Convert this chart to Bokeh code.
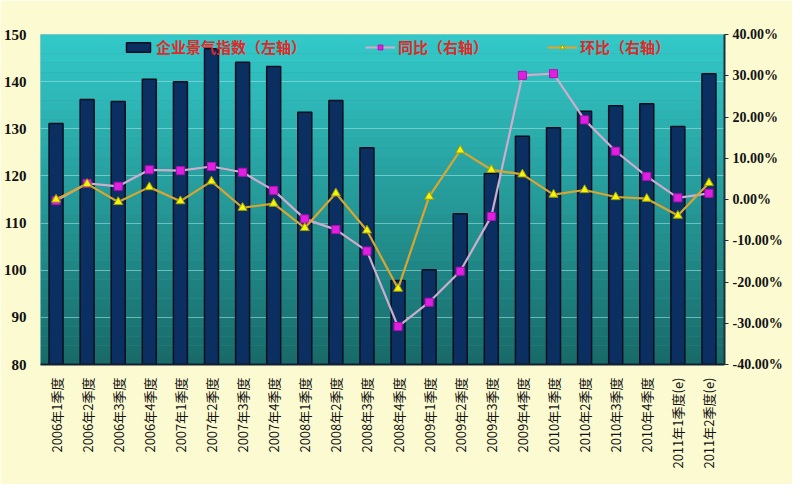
from bokeh.plotting import figure
from bokeh.models import (Range1d, LinearAxis, SingleIntervalTicker, PrintfTickFormatter,
                          Legend, LegendItem, BoxAnnotation, FactorRange)
from bokeh.embed import file_html
from bokeh.resources import INLINE
import math

categories = [
    "2006年1季度", "2006年2季度", "2006年3季度", "2006年4季度",
    "2007年1季度", "2007年2季度", "2007年3季度", "2007年4季度",
    "2008年1季度", "2008年2季度", "2008年3季度", "2008年4季度",
    "2009年1季度", "2009年2季度", "2009年3季度", "2009年4季度",
    "2010年1季度", "2010年2季度", "2010年3季度", "2010年4季度",
    "2011年1季度(e)", "2011年2季度(e)",
]
index_values = [131.1, 136.2, 135.8, 140.5, 140.0, 147.0, 144.1, 143.2,
                133.5, 136.0, 126.0, 97.8, 100.1, 112.0, 120.5, 128.4,
                130.2, 133.7, 134.9, 135.3, 130.5, 141.7]
yoy_pct = [-0.3, 3.9, 3.2, 7.2, 7.0, 8.0, 6.6, 2.2, -4.7, -7.3, -12.5, -30.8,
           -24.9, -17.4, -4.1, 30.1, 30.5, 19.3, 11.7, 5.6, 0.4, 1.5]
qoq_pct = [0.0, 3.8, -0.6, 3.0, -0.4, 4.4, -2.0, -1.0, -6.9, 1.5, -7.5, -21.6,
           0.7, 11.9, 7.2, 6.1, 1.2, 2.3, 0.6, 0.2, -3.9, 4.0]

left_ticks_range = (80, 150)
right_ticks_range = (-40, 40)

CREAM = "#fcfad0"

p = figure(x_range=FactorRange(*categories), y_range=Range1d(*left_ticks_range),
           frame_width=684, frame_height=330,
           min_border_left=32, min_border_right=68, min_border_top=34, min_border_bottom=120,
           output_backend="svg", toolbar_location=None,
           background_fill_color="#2a9e9e", border_fill_color=CREAM, outline_line_color=None)
p.x_range.range_padding = 0.0

# vertical gradient of the plot area (decoration)
n = 35
top_c = (52, 202, 202)
bot_c = (24, 106, 104)
for i in range(n):
    t = (i + 0.5) / n
    c = tuple(int(bot_c[k] + (top_c[k] - bot_c[k]) * t) for k in range(3))
    b = BoxAnnotation(bottom=80 + i * 2, top=82 + i * 2, fill_color="#%02x%02x%02x" % c,
                      fill_alpha=1.0, line_alpha=0, level="image")
    p.add_layout(b)

p.extra_y_ranges = {"pct": Range1d(*right_ticks_range)}

bars = p.vbar(x=categories, top=index_values, bottom=80, width=0.45,
              fill_color="#0c2f62", line_color="#050f20", line_width=1.5)

l1 = p.line(categories, yoy_pct, y_range_name="pct", line_color="#cdaccd", line_width=2.2)
s1 = p.scatter(categories, yoy_pct, y_range_name="pct", marker="square", size=8,
               fill_color="#e020e0", line_color="#b010b0")
l2 = p.line(categories, qoq_pct, y_range_name="pct", line_color="#d8a630", line_width=2.2)
s2 = p.scatter(categories, qoq_pct, y_range_name="pct", marker="triangle", size=9,
               fill_color="#f4f410", line_color="#a0a000")

# left axis
ya = p.yaxis[0]
ya.ticker = SingleIntervalTicker(interval=10)
ya.axis_line_color = None
ya.major_tick_line_color = None
ya.minor_tick_line_color = None
ya.major_label_text_font = "Liberation Serif"
ya.major_label_text_font_style = "bold"
ya.major_label_text_font_size = "15px"
ya.major_label_text_color = "#111111"
ya.major_label_standoff = 8

# right axis
ra = LinearAxis(y_range_name="pct", ticker=SingleIntervalTicker(interval=10),
                formatter=PrintfTickFormatter(format="%.2f%%"))
ra.axis_line_color = "#1a3040"
ra.axis_line_width = 2
ra.major_tick_line_color = "#1a3040"
ra.major_tick_out = 4
ra.major_tick_in = 0
ra.minor_tick_line_color = None
ra.major_label_text_font = "Liberation Serif"
ra.major_label_text_font_style = "bold"
ra.major_label_text_font_size = "14px"
ra.major_label_text_color = "#111111"
ra.major_label_standoff = 4
p.add_layout(ra, "right")

# bottom axis
xa = p.xaxis[0]
xa.major_label_orientation = math.pi / 2
xa.major_label_text_font = "Noto Sans CJK SC"
xa.major_label_text_font_size = "13px"
xa.major_label_text_color = "#111111"
xa.axis_line_color = "#102030"
xa.axis_line_width = 2
xa.major_tick_line_color = None
xa.minor_tick_line_color = None
xa.major_label_standoff = 7

p.xgrid.grid_line_color = None
p.ygrid.grid_line_color = "#a8eaea"
p.ygrid.grid_line_alpha = 0.55
p.ygrid.grid_line_width = 1

legend = Legend(items=[
    LegendItem(label="企业景气指数（左轴）", renderers=[bars]),
    LegendItem(label="同比（右轴）", renderers=[l1, s1]),
    LegendItem(label="环比（右轴）", renderers=[l2, s2]),
], orientation="horizontal", location=(83, 307),
    background_fill_alpha=0, border_line_alpha=0,
    label_text_color="#e02828", label_text_font="Noto Sans CJK SC",
    label_text_font_style="bold", label_text_font_size="15px",
    glyph_width=30, glyph_height=12, spacing=59, label_standoff=3,
    padding=0, margin=0)
p.add_layout(legend)

html = file_html(p, INLINE).replace("<body>", '<body style="background-color:%s;">' % CREAM, 1)
open("out.html", "w").write(html)
